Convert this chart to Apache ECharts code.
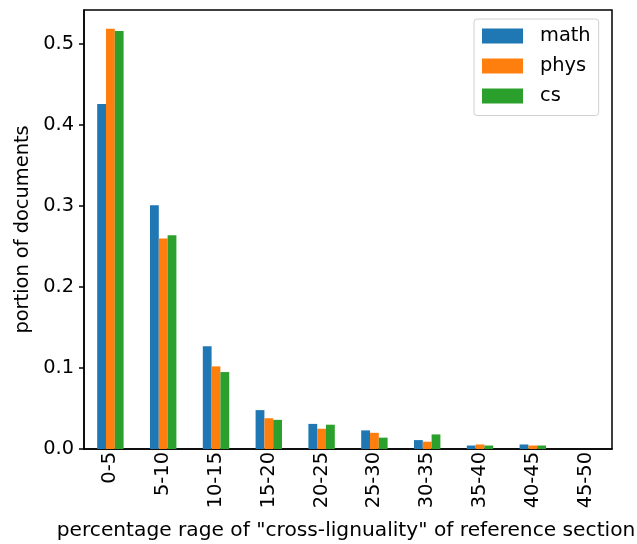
<!DOCTYPE html>
<html>
<head>
<meta charset="utf-8">
<script src="https://cdn.jsdelivr.net/npm/echarts@6/dist/echarts.min.js"></script>
<style>html,body{margin:0;padding:0;background:#fff;}#c{width:637px;height:544px;}</style>
</head>
<body>
<div id="c"></div>
<script>
const categories = ['0-5','5-10','10-15','15-20','20-25','25-30','30-35','35-40','40-45','45-50'];
const mathVals = [0.426, 0.301, 0.127, 0.048, 0.031, 0.023, 0.011, 0.0043, 0.0056, 0];
const physVals = [0.519, 0.260, 0.102, 0.038, 0.025, 0.020, 0.009, 0.0056, 0.0043, 0];
const csVals   = [0.516, 0.264, 0.095, 0.036, 0.030, 0.014, 0.018, 0.0043, 0.0043, 0];
const seriesNames = ['math', 'phys', 'cs'];
const colors = ['#1f77b4', '#ff7f0e', '#2ca02c'];
const yTicks = { min: 0, max: 0.542, interval: 0.1 };

const font = 'DejaVu Sans';
const fs = 19.4;
const chart = echarts.init(document.getElementById('c'), null, { renderer: 'canvas' });
const values = [mathVals, physVals, csVals];
chart.setOption({
  animation: false,
  backgroundColor: '#fff',
  textStyle: { fontFamily: font },
  grid: { left: 84, right: 25, top: 10, bottom: 95, show: true, borderColor: '#000', borderWidth: 1.5,
    containLabel: false, outerBoundsMode: 'none' },
  legend: {
    orient: 'vertical',
    left: 474, top: 19,
    data: seriesNames,
    itemWidth: 41, itemHeight: 15, itemGap: 11,
    padding: [7.5, 8, 10, 8],
    borderColor: '#d0d0d0', borderWidth: 1, borderRadius: 3,
    backgroundColor: 'rgba(255,255,255,0.8)',
    icon: 'rect',
    textStyle: { fontFamily: font, fontSize: fs, color: '#000', padding: [0, 0, 0, 12], lineHeight: 15 }
  },
  xAxis: {
    type: 'category',
    data: categories,
    boundaryGap: true,
    name: 'percentage rage of "cross-lignuality" of reference section',
    nameLocation: 'middle',
    nameGap: 72,
    nameTextStyle: { fontFamily: font, fontSize: 20.2, color: '#000', padding: [0, 4, 0, 0] },
    axisLine: { lineStyle: { color: '#000', width: 1.5 } },
    axisTick: { alignWithLabel: true, length: 5, lineStyle: { color: '#000', width: 1.5 } },
    axisLabel: { rotate: 90, margin: 3, fontFamily: font, fontSize: fs, color: '#000', interval: 0 },
    splitLine: { show: false }
  },
  yAxis: {
    type: 'value',
    min: yTicks.min, max: yTicks.max, interval: yTicks.interval,
    name: 'portion of documents',
    nameLocation: 'middle',
    nameGap: 46,
    nameTextStyle: { fontFamily: font, fontSize: fs, color: '#000' },
    axisLine: { show: true, lineStyle: { color: '#000', width: 1.5 } },
    axisTick: { show: true, length: 5, lineStyle: { color: '#000', width: 1.5 } },
    axisLabel: { margin: 10, fontFamily: font, fontSize: fs, color: '#000', showMaxLabel: false,
      formatter: v => v.toFixed(1) },
    splitLine: { show: false }
  },
  series: seriesNames.map((n, i) => ({
    name: n,
    type: 'bar',
    data: values[i],
    barWidth: '16.67%',
    barGap: '0%',
    itemStyle: { color: colors[i] }
  }))
});
</script>
</body>
</html>
